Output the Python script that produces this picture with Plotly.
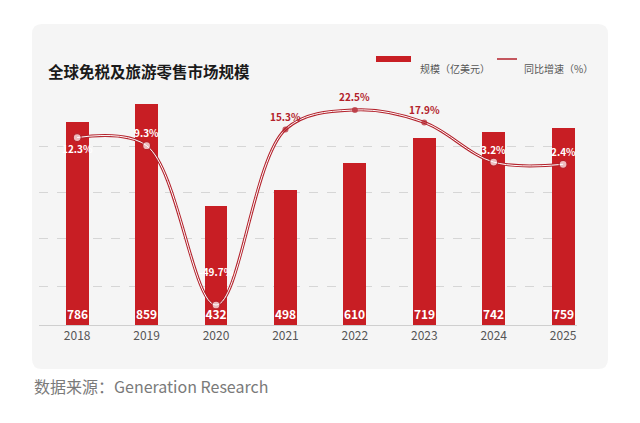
import plotly.graph_objects as go

# data
years = ['2018', '2019', '2020', '2021', '2022', '2023', '2024', '2025']
market_size = [786, 859, 432, 498, 610, 719, 742, 759]   # 亿美元
yoy_growth = [12.3, 9.3, -49.7, 15.3, 22.5, 17.9, 3.2, 2.4]  # %
grid_ticks = [90, 294, 488, 680]

# page body has an 8px margin, so the figure is drawn 8px smaller
OFF = 8
W, H = 640 - OFF, 423 - OFF
BAR_RED = '#c81e24'
LINE_RED = '#b3212b'
FONT = 'Noto Sans CJK SC'


def px(x):
    return (x - OFF) / W


def py(y):
    return 1 - (y - OFF) / H


# the original bar axis does not start at zero
bar_floor, bar_top = -72, 962
line_min, line_max = -57.1, 33.6

fig = go.Figure()

fig.add_trace(go.Bar(
    x=years, y=[v - bar_floor for v in market_size], base=bar_floor, width=0.33,
    marker=dict(color=BAR_RED, line=dict(width=0)),
    text=[str(v) for v in market_size],
    textposition='inside', insidetextanchor='start', textangle=0,
    textfont=dict(family=FONT, size=12, color='white', weight='bold'),
    cliponaxis=False, showlegend=False, hoverinfo='skip',
))

# line drawn as red stroke with a thin white core
fig.add_trace(go.Scatter(
    x=years, y=yoy_growth, yaxis='y2', mode='lines',
    line=dict(color=LINE_RED, width=3.0, shape='spline', smoothing=1.0),
    showlegend=False, hoverinfo='skip',
))
fig.add_trace(go.Scatter(
    x=years, y=yoy_growth, yaxis='y2', mode='lines',
    line=dict(color='white', width=1.0, shape='spline', smoothing=1.0),
    showlegend=False, hoverinfo='skip',
))

# points sitting on top of a bar get open markers and white labels
inside = [(g - line_min) / (line_max - line_min) < (b - bar_floor) / (bar_top - bar_floor)
          for g, b in zip(yoy_growth, market_size)]
fig.add_trace(go.Scatter(
    x=years, y=yoy_growth, yaxis='y2', mode='markers',
    marker=dict(
        size=[8 if i else 6 for i in inside],
        color=['white' if i else LINE_RED for i in inside],
        line=dict(color=LINE_RED, width=[1.3 if i else 0 for i in inside]),
    ),
    showlegend=False,
))

for k, g in enumerate(yoy_growth):
    shift = 13
    if k == 0:
        shift = -11
    elif g < -40:
        shift = 34
    fig.add_annotation(
        x=k, xref='x', y=g, yref='y2', text=f'<b>{g}%</b>', showarrow=False,
        yshift=shift, font=dict(family=FONT, size=10,
                                color='white' if inside[k] else LINE_RED),
    )

# card background
x0, x1, y0, y1 = px(32), px(608), py(369), py(24)
rx, ry = 10 / W, 10 / H
card = (f'M {x0+rx},{y0} L {x1-rx},{y0} Q {x1},{y0} {x1},{y0+ry} '
        f'L {x1},{y1-ry} Q {x1},{y1} {x1-rx},{y1} L {x0+rx},{y1} '
        f'Q {x0},{y1} {x0},{y1-ry} L {x0},{y0+ry} Q {x0},{y0} {x0+rx},{y0} Z')
fig.add_shape(type='path', path=card, xref='paper', yref='paper',
              fillcolor='#f5f5f5', line=dict(width=0), layer='below')

# custom legend
fig.add_shape(type='rect', xref='paper', yref='paper',
              x0=px(376), x1=px(411), y0=py(62), y1=py(56),
              fillcolor=BAR_RED, line=dict(width=0))
fig.add_shape(type='line', xref='paper', yref='paper',
              x0=px(497), x1=px(517), y0=py(59), y1=py(59),
              line=dict(color=LINE_RED, width=1.5))
fig.add_annotation(x=px(418), y=py(59), xref='paper', yref='paper',
                   text='规模（亿美元）', showarrow=False, xanchor='left',
                   font=dict(family=FONT, size=10, color='#555555'))
fig.add_annotation(x=px(522), y=py(59), xref='paper', yref='paper',
                   text='同比增速（%）', showarrow=False, xanchor='left',
                   font=dict(family=FONT, size=10, color='#555555'))

# title and source
fig.add_annotation(x=px(46), y=py(58), xref='paper', yref='paper',
                   text='<b>全球免税及旅游零售市场规模</b>', showarrow=False,
                   xanchor='left', font=dict(family=FONT, size=15.5, color='#1a1a1a'))
fig.add_annotation(x=px(32), y=py(400), xref='paper', yref='paper',
                   text='数据来源：Generation Research', showarrow=False,
                   xanchor='left', font=dict(family=FONT, size=16, color='#7a7a7a'))

fig.update_layout(
    width=W, height=H,
    margin=dict(l=0, r=0, t=0, b=0),
    paper_bgcolor='white', plot_bgcolor='rgba(0,0,0,0)',
    uniformtext=dict(minsize=12, mode='show'),
    xaxis=dict(domain=[px(39), px(577)], range=[-0.55, 7.2], type='category',
               showline=True, linecolor='#cfcfcf', linewidth=1, ticks='',
               showgrid=False, tickfont=dict(family=FONT, size=12, color='#555555')),
    yaxis=dict(domain=[py(325), py(80)], range=[bar_floor, bar_top],
               tickvals=grid_ticks, showticklabels=False, showgrid=True,
               gridcolor='#d6d6d6', griddash='dash', gridwidth=1,
               zeroline=False),
    yaxis2=dict(overlaying='y', range=[line_min, line_max], visible=False),
    bargap=0,
)

fig.write_html('out.html')
